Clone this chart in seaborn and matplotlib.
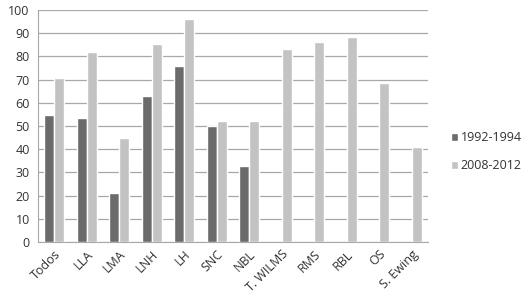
import matplotlib
matplotlib.use("Agg")
import matplotlib.pyplot as plt
import seaborn as sns
import pandas as pd
import numpy as np

categories = ["Todos", "LLA", "LMA", "LNH", "LH", "SNC", "NBL", "T. WILMS", "RMS", "RBL", "OS", "S. Ewing"]
series_names = ["1992-1994", "2008-2012"]
vals_1992 = [54.6, 53.3, 21.0, 62.9, 76.0, 49.9, 32.8, np.nan, np.nan, np.nan, np.nan, np.nan]
vals_2008 = [70.7, 82.0, 45.0, 85.5, 96.0, 52.3, 52.3, 83.2, 86.3, 88.2, 68.7, 41.0]
y_ticks = [0, 10, 20, 30, 40, 50, 60, 70, 80, 90, 100]

df = pd.DataFrame({
    "cat": categories * 2,
    "serie": [series_names[0]] * len(categories) + [series_names[1]] * len(categories),
    "val": vals_1992 + vals_2008,
})

sns.set_style("white")
plt.rcParams['font.family'] = ['Open Sans', 'DejaVu Sans']

fig = plt.figure(figsize=(5.22, 2.97), dpi=100)
ax = fig.add_axes([0.0728, 0.185, 0.747, 0.781])

sns.barplot(data=df, x="cat", y="val", hue="serie", order=categories,
            hue_order=series_names, palette=["#6b6b6b", "#c3c3c3"],
            width=0.62, saturation=1, ax=ax, legend=True, zorder=3)

ax.set_ylim(0, 100)
ax.set_xlim(-0.5, len(categories) - 0.5)
ax.set_yticks(y_ticks)
ax.yaxis.grid(True, color="#a8a8a8", linewidth=0.9, zorder=0)
ax.set_axisbelow(True)
ax.set_xlabel("")
ax.set_ylabel("")
for s in ["top", "right"]:
    ax.spines[s].set_visible(False)
ax.spines["left"].set_color("#a8a8a8")
ax.spines["bottom"].set_color("#a8a8a8")
ax.tick_params(axis="y", length=0, labelsize=9, colors="#333333", pad=6)
ax.tick_params(axis="x", which="major", length=0, labelsize=9, colors="#333333", pad=4)
ax.set_xticks(np.arange(-0.5, len(categories), 1.0), minor=True)
ax.tick_params(axis="x", which="minor", length=4, color="#a8a8a8")
plt.setp(ax.get_xticklabels(), rotation=45, ha="right", rotation_mode="anchor")

leg = ax.legend(loc="center left", bbox_to_anchor=(1.03, 0.39), frameon=False,
                fontsize=9, handlelength=0.6, handleheight=0.6, handletextpad=0.2,
                labelspacing=1.2)
for t in leg.get_texts():
    t.set_color("#333333")

fig.savefig("out.png", dpi=100)
